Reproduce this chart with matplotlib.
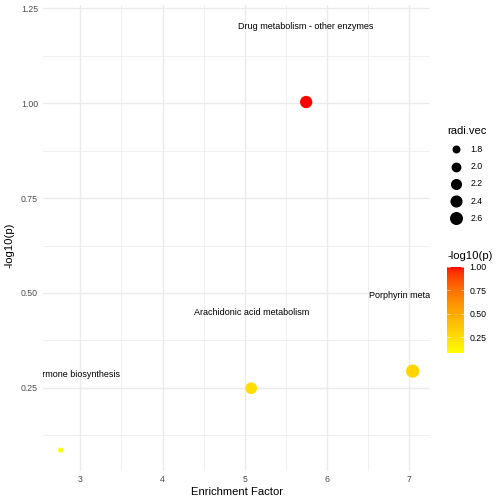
import numpy as np
import matplotlib
matplotlib.use('Agg')
import matplotlib.pyplot as plt
from matplotlib.colors import ListedColormap, Normalize

plt.rcParams['font.family'] = ['Liberation Sans', 'DejaVu Sans']

# pathway data
pathways = ['Steroid hormone biosynthesis', 'Arachidonic acid metabolism',
            'Porphyrin metabolism', 'Drug metabolism - other enzymes']
enrichment = [2.762, 5.078, 7.041, 5.746]
neglogp = [0.086, 0.249, 0.294, 1.003]
radi = [1.69, 2.32, 2.67, 2.44]
size_breaks = [1.8, 2.0, 2.2, 2.4, 2.6]
colour_breaks = [0.25, 0.50, 0.75, 1.00]
label_offset = 0.2

W = 504.0  # figure pixels (7in at 72 dpi)


# yellow -> red gradient interpolated in Lab space, like ggplot
def srgb_to_lab(rgb):
    rgb = np.asarray(rgb, float)
    lin = np.where(rgb <= 0.04045, rgb / 12.92, ((rgb + 0.055) / 1.055) ** 2.4)
    m = np.array([[0.4124, 0.3576, 0.1805],
                  [0.2126, 0.7152, 0.0722],
                  [0.0193, 0.1192, 0.9505]])
    xyz = m @ lin / np.array([0.95047, 1.0, 1.08883])
    f = np.where(xyz > 0.008856, np.cbrt(xyz), 7.787 * xyz + 16 / 116)
    return np.array([116 * f[1] - 16, 500 * (f[0] - f[1]), 200 * (f[1] - f[2])])


def lab_to_srgb(lab):
    L, a, b = lab
    fy = (L + 16) / 116
    fx = fy + a / 500
    fz = fy - b / 200
    f = np.array([fx, fy, fz])
    xyz = np.where(f ** 3 > 0.008856, f ** 3, (f - 16 / 116) / 7.787)
    xyz = xyz * np.array([0.95047, 1.0, 1.08883])
    minv = np.array([[3.2406, -1.5372, -0.4986],
                     [-0.9689, 1.8758, 0.0415],
                     [0.0557, -0.2040, 1.0570]])
    lin = np.clip(minv @ xyz, 0, 1)
    rgb = np.where(lin <= 0.0031308, 12.92 * lin, 1.055 * lin ** (1 / 2.4) - 0.055)
    return np.clip(rgb, 0, 1)


lo = srgb_to_lab([1, 1, 0])
hi = srgb_to_lab([1, 0, 0])
cmap = ListedColormap([lab_to_srgb(lo + t * (hi - lo)) for t in np.linspace(0, 1, 256)])
norm = Normalize(min(neglogp), max(neglogp))

# area-style size scale (diameter in px)
rmin, rmax = min(radi), max(radi)
dmin, dmax = 5.3, 13.3


def diam(r):
    t = (np.asarray(r, float) - rmin) / (rmax - rmin)
    return dmin + (dmax - dmin) * np.sqrt(np.clip(t, 0, 1))


fig = plt.figure(figsize=(7, 7), dpi=72)
left, right, top, bottom = 43.1, 430.3, 4.9, 471.3
ax = fig.add_axes([left / W, 1 - bottom / W, (right - left) / W, (bottom - top) / W])

# limits with ggplot-like 5% expansion (labels count for y)
xr = (min(enrichment), max(enrichment))
yr = (min(neglogp), max(neglogp) + label_offset)
ax.set_xlim(xr[0] - 0.05 * (xr[1] - xr[0]), xr[1] + 0.05 * (xr[1] - xr[0]))
ax.set_ylim(yr[0] - 0.05 * (yr[1] - yr[0]), yr[1] + 0.05 * (yr[1] - yr[0]))

for s in ax.spines.values():
    s.set_visible(False)
ax.set_xticks([3, 4, 5, 6, 7])
ax.set_yticks([0.25, 0.50, 0.75, 1.00, 1.25])
ax.set_yticklabels(['0.25', '0.50', '0.75', '1.00', '1.25'])
ax.set_xticks([3.5, 4.5, 5.5, 6.5], minor=True)
ax.set_yticks([0.125, 0.375, 0.625, 0.875, 1.125], minor=True)
ax.tick_params(which='both', length=0, labelsize=8.8, labelcolor='#4D4D4D')
ax.tick_params(axis='x', pad=4)
ax.tick_params(axis='y', pad=5)
ax.grid(which='major', color='#EBEBEB', linewidth=1.4)
ax.grid(which='minor', color='#EBEBEB', linewidth=0.7)
ax.set_axisbelow(True)

ax.scatter(enrichment, neglogp, s=diam(radi) ** 2, c=neglogp, cmap=cmap, norm=norm,
           linewidths=0, zorder=3)
for name, x, y in zip(pathways, enrichment, neglogp):
    ax.text(x, y + label_offset, name, ha='center', va='center', fontsize=9,
            color='black', clip_on=True, zorder=4)

fig.text(237 / W, 1 - 492 / W, 'Enrichment Factor', ha='center', va='center', fontsize=11.3)
fig.text(9.5 / W, 1 - 245 / W, '-log10(p)', ha='center', va='center', fontsize=11.3, rotation=90)

# size legend
fig.text(447 / W, 1 - 130.7 / W, 'radi.vec', ha='left', va='center', fontsize=11.3)
lg = fig.add_axes([0, 0, 1, 1], facecolor='none')
lg.set_xlim(0, W)
lg.set_ylim(W, 0)
lg.axis('off')
key_y = 149.3
for b in size_breaks:
    lg.scatter([455.7], [key_y], s=diam(b) ** 2, color='black', linewidths=0)
    lg.text(470.3, key_y, f'{b:.1f}', ha='left', va='center', fontsize=8.8, color='black')
    key_y += 17.25

# colour bar
fig.text(447 / W, 1 - 255.7 / W, '-log10(p)', ha='left', va='center', fontsize=11.3)
cb_top, cb_bot = 266.7, 352.7
cax = fig.add_axes([447.3 / W, 1 - cb_bot / W, 16.4 / W, (cb_bot - cb_top) / W])
grad = np.linspace(norm.vmin, norm.vmax, 256).reshape(-1, 1)
cax.imshow(grad, cmap=cmap, norm=norm, aspect='auto', origin='lower',
           extent=[0, 1, norm.vmin, norm.vmax])
cax.set_xlim(0, 1)
cax.set_ylim(norm.vmin, norm.vmax)
cax.set_xticks([])
for s in cax.spines.values():
    s.set_visible(False)
cax.yaxis.tick_right()
cax.set_yticks(colour_breaks)
cax.set_yticklabels([f'{v:.2f}' for v in colour_breaks])
cax.tick_params(axis='y', length=0, labelsize=8.8, labelcolor='black', pad=6)
for v in colour_breaks:
    cax.plot([0, 0.18], [v, v], color='white', linewidth=0.6, alpha=0.8)
    cax.plot([0.82, 1], [v, v], color='white', linewidth=0.6, alpha=0.8)

fig.savefig('out.png', dpi=72, facecolor='white')
